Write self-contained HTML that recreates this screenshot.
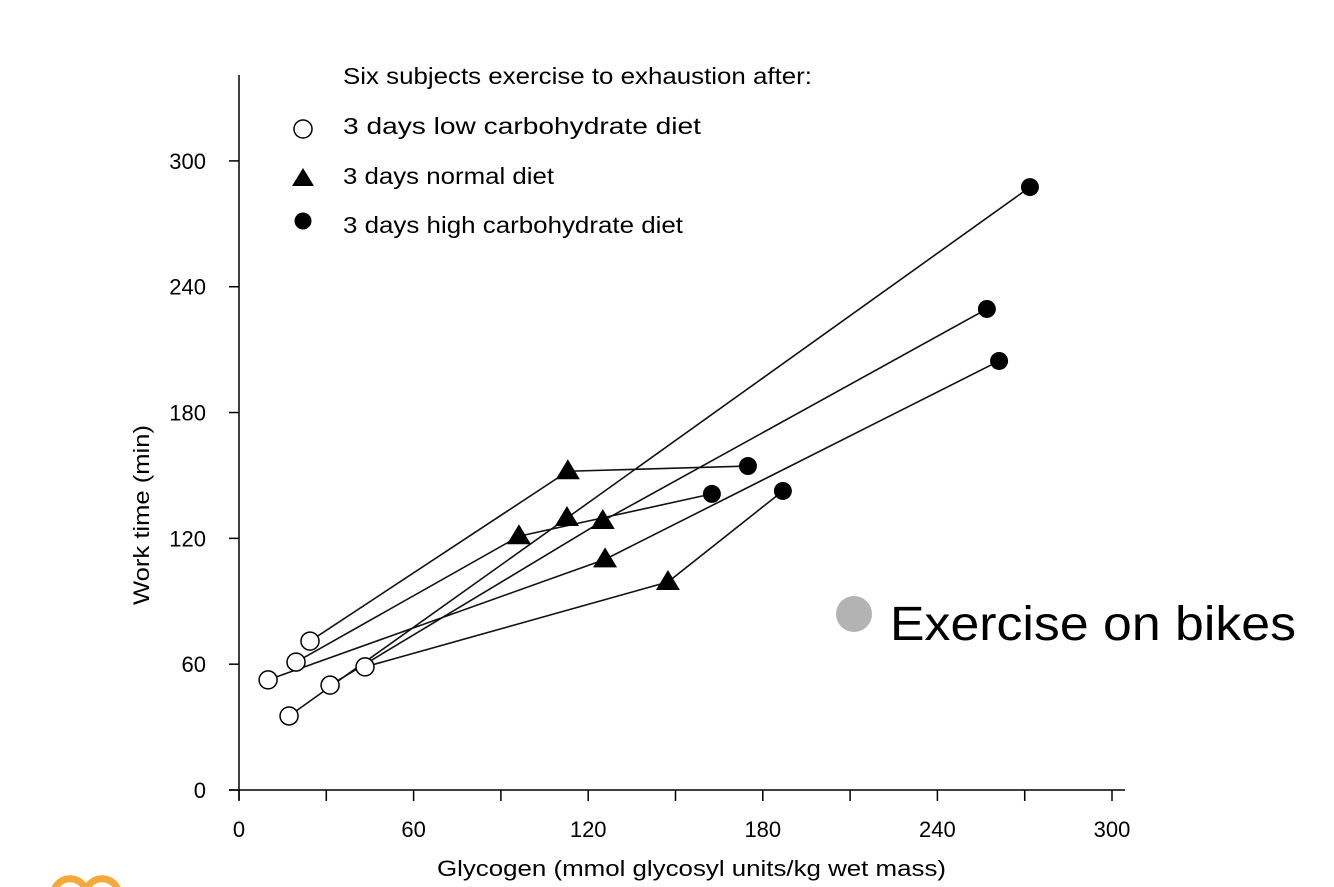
<!DOCTYPE html>
<html><head><meta charset="utf-8"><style>
body{margin:0;background:#fff;}
svg{display:block;font-family:"Liberation Sans",Arial,sans-serif;}
</style></head><body>
<svg id="chart" width="1334" height="887" viewBox="0 0 1334 887">
<g id="axes"></g><g id="lines"></g><g id="marks"></g>
<g>
<text x="343" y="84" font-size="23" textLength="469" lengthAdjust="spacingAndGlyphs">Six subjects exercise to exhaustion after:</text>
<circle cx="303" cy="129" r="9" fill="#fff" stroke="#000" stroke-width="1.5"/>
<text x="343" y="134" font-size="23" textLength="358" lengthAdjust="spacingAndGlyphs">3 days low carbohydrate diet</text>
<polygon points="303,168 292,186 314,186" fill="#000"/>
<text x="343" y="184" font-size="23" textLength="211" lengthAdjust="spacingAndGlyphs">3 days normal diet</text>
<circle cx="303" cy="221" r="8.5" fill="#000"/>
<text x="343" y="233" font-size="23" textLength="340" lengthAdjust="spacingAndGlyphs">3 days high carbohydrate diet</text>
</g>
<circle cx="854" cy="614" r="18" fill="#b3b3b3"/>
<text x="890" y="640" font-size="48" textLength="406" lengthAdjust="spacingAndGlyphs">Exercise on bikes</text>
<text x="437" y="876" font-size="22" textLength="509" lengthAdjust="spacingAndGlyphs">Glycogen (mmol glycosyl units/kg wet mass)</text>
<text transform="translate(149,605) rotate(-90)" font-size="22" textLength="180" lengthAdjust="spacingAndGlyphs">Work time (min)</text>
<g fill="none" stroke="#f5a93a" stroke-width="7">
<path d="M54,890 A17,17 0 0 1 86,890"/><path d="M86,890 A17,17 0 0 1 118,890"/>
</g>
</svg>
<script>
const xTicks=[0,30,60,90,120,150,180,210,240,270,300];
const xTickLabels=["0","60","120","180","240","300"];
const yTicks=[0,60,120,180,240,300];
const lowX=[24.4,10,17.2,43.3,31.3,19.6];
const lowY=[71,52.5,35.3,58.7,50,61];
const normalX=[113,125.8,112.7,147.4,125,96.2];
const normalY=[152,110,129.7,99.2,128.3,121];
const highX=[174.9,261.2,271.8,186.9,257,162.5];
const highY=[154.5,204.6,287.5,142.6,229.4,141.2];
const NS="http://www.w3.org/2000/svg";
function xs(v){return 239+v*2.91;}
function ys(v){return 790-v*2.097;}
function mk(tag,attrs,parent){const e=document.createElementNS(NS,tag);for(const k in attrs)e.setAttribute(k,attrs[k]);parent.appendChild(e);return e;}
const axes=document.getElementById('axes');
let e=mk('line',{x1:239,y1:75,x2:239,y2:800,stroke:'#000','stroke-width':1.5},axes);


e=mk('line',{x1:229,y1:790,x2:1125,y2:790,stroke:'#000','stroke-width':1.5},axes);


xTicks.forEach((t)=>{
 const l=mk('line',{x1:xs(t),y1:790,x2:xs(t),y2:801,stroke:'#000','stroke-width':1.5},axes);
 
 
});
xTickLabels.forEach(s=>{
 const t=mk('text',{x:xs(+s),y:837,'font-size':22,'text-anchor':'middle'},axes);t.textContent=s;
 
 
});
yTicks.forEach(v=>{
 const l=mk('line',{x1:229,y1:ys(v),x2:239,y2:ys(v),stroke:'#000','stroke-width':1.5},axes);
 
 
 const t=mk('text',{x:206,y:ys(v)+8,'font-size':22,'text-anchor':'end'},axes);t.textContent=String(v);
 
 
});
const lines=document.getElementById('lines'),marks=document.getElementById('marks');
for(let i=0;i<lowX.length;i++){
 const p=mk('polyline',{points:`${xs(lowX[i])},${ys(lowY[i])} ${xs(normalX[i])},${ys(normalY[i])} ${xs(highX[i])},${ys(highY[i])}`,fill:'none',stroke:'#111','stroke-width':1.6},lines);
 
 
}
for(let i=0;i<lowX.length;i++){
 const c=mk('circle',{cx:xs(lowX[i]),cy:ys(lowY[i]),r:9,fill:'#fff',stroke:'#000','stroke-width':1.5},marks);
 
 
 const x=xs(normalX[i]),y=ys(normalY[i]);
 const tr=mk('polygon',{points:`${x},${y-12} ${x-12},${y+8} ${x+12},${y+8}`,fill:'#000'},marks);
 
 
 const d=mk('circle',{cx:xs(highX[i]),cy:ys(highY[i]),r:9,fill:'#000'},marks);
 
 
}
</script>
</body></html>
